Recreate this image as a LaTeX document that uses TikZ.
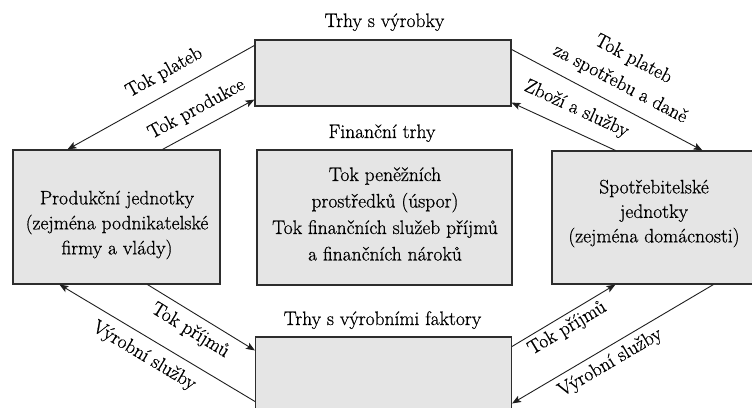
\documentclass[tikz,border=0pt]{standalone}
\usepackage{fontspec}
\newfontfamily\diagfont{Latin Modern Roman}[FakeBold=0.7]
\usetikzlibrary{arrows.meta}
\definecolor{boxfill}{RGB}{229,229,229}
\definecolor{boxline}{RGB}{45,45,45}
\definecolor{flowline}{RGB}{30,30,30}
\tikzset{
  market/.style={draw=boxline, line width=1.1pt, fill=boxfill, inner sep=0pt},
  boxtext/.style={align=center, inner sep=0pt},
  caption/.style={font=\diagfont\fontsize{19.5}{24}\selectfont, anchor=base, inner sep=0pt},
  flow/.style={draw=flowline, line width=0.9pt,
    -{Stealth[length=9pt,width=7pt,inset=2pt]}},
  flowlabel/.style={sloped, inner sep=0pt, anchor=center, align=center,
    font=\diagfont\fontsize{19.5}{28}\selectfont}
}
\begin{document}
\begin{tikzpicture}[x=1pt,y=-1pt]
\useasboundingbox (0,0) rectangle (752,407);

% boxes
\node[market, minimum width=256pt, minimum height=66pt] (top) at (383,73) {};
\node[market, minimum width=207pt, minimum height=134pt] (left) at (116.5,217) {};
\node[market, minimum width=255pt, minimum height=135pt] (mid) at (384.5,217.5) {};
\node[market, minimum width=202pt, minimum height=133pt] (right) at (653,217.5) {};
\node[market, minimum width=256pt, minimum height=80pt] (bot) at (383.5,377) {};

% box texts
\node[boxtext, font=\diagfont\fontsize{19.5}{25}\selectfont] (lefttext) at (117,225)
  {Produkční jednotky\\(zejména podnikatelské\\firmy a vlády)};
\node[boxtext, font=\diagfont\fontsize{19.5}{26.5}\selectfont] (midtext) at (385,214)
  {Tok peněžních\\prostředků (úspor)\\Tok finančních služeb příjmů\\a finančních nároků};
\node[boxtext, font=\diagfont\fontsize{19.5}{24.5}\selectfont] (righttext) at (654,213.5)
  {Spotřebitelské\\jednotky\\(zejména domácnosti)};

% market captions
\node[caption] (ctop) at (384.5,27) {Trhy s výrobky};
\node[caption] (cmid) at (382,138) {Finanční trhy};
\node[caption] (cbot) at (382.5,325) {Trhy s výrobními faktory};

% flows between producers and the goods market
\draw[flow] ([shift={(0,6)}]top.north west) -- ([shift={(55,0)}]left.north west)
  node[flowlabel, pos=0.43, yshift=20pt] {Tok plateb};
\draw[flow] ([shift={(150,0)}]left.north west) -- ([shift={(0,-7)}]top.south west)
  node[flowlabel, pos=0.47, yshift=19pt] {Tok produkce};

% flows between households and the goods market
\draw[flow] ([shift={(0,10)}]top.north east) -- ([shift={(151,0)}]right.north west)
  node[flowlabel, pos=0.52, yshift=34pt] {Tok plateb\\za spotřebu a daně};
\draw[flow] ([shift={(64,0)}]right.north west) -- ([shift={(0,-4)}]top.south east)
  node[flowlabel, pos=0.46, yshift=21pt] {Zboží a služby};

% flows between producers and the factor market
\draw[flow] ([shift={(135,0)}]left.south west) -- ([shift={(0,14)}]bot.north west)
  node[flowlabel, pos=0.48, yshift=-17pt] {Tok příjmů};
\draw[flow] ([shift={(0,65)}]bot.north west) -- ([shift={(47,0)}]left.south west)
  node[flowlabel, pos=0.52, yshift=-18pt] {Výrobní služby};

% flows between households and the factor market
\draw[flow] ([shift={(0,10)}]bot.north east) -- ([shift={(64,0)}]right.south west)
  node[flowlabel, pos=0.47, yshift=-13pt] {Tok příjmů};
\draw[flow] ([shift={(162,0)}]right.south west) -- ([shift={(0,67)}]bot.north east)
  node[flowlabel, pos=0.55, yshift=-15pt] {Výrobní služby};
\end{tikzpicture}
\end{document}
